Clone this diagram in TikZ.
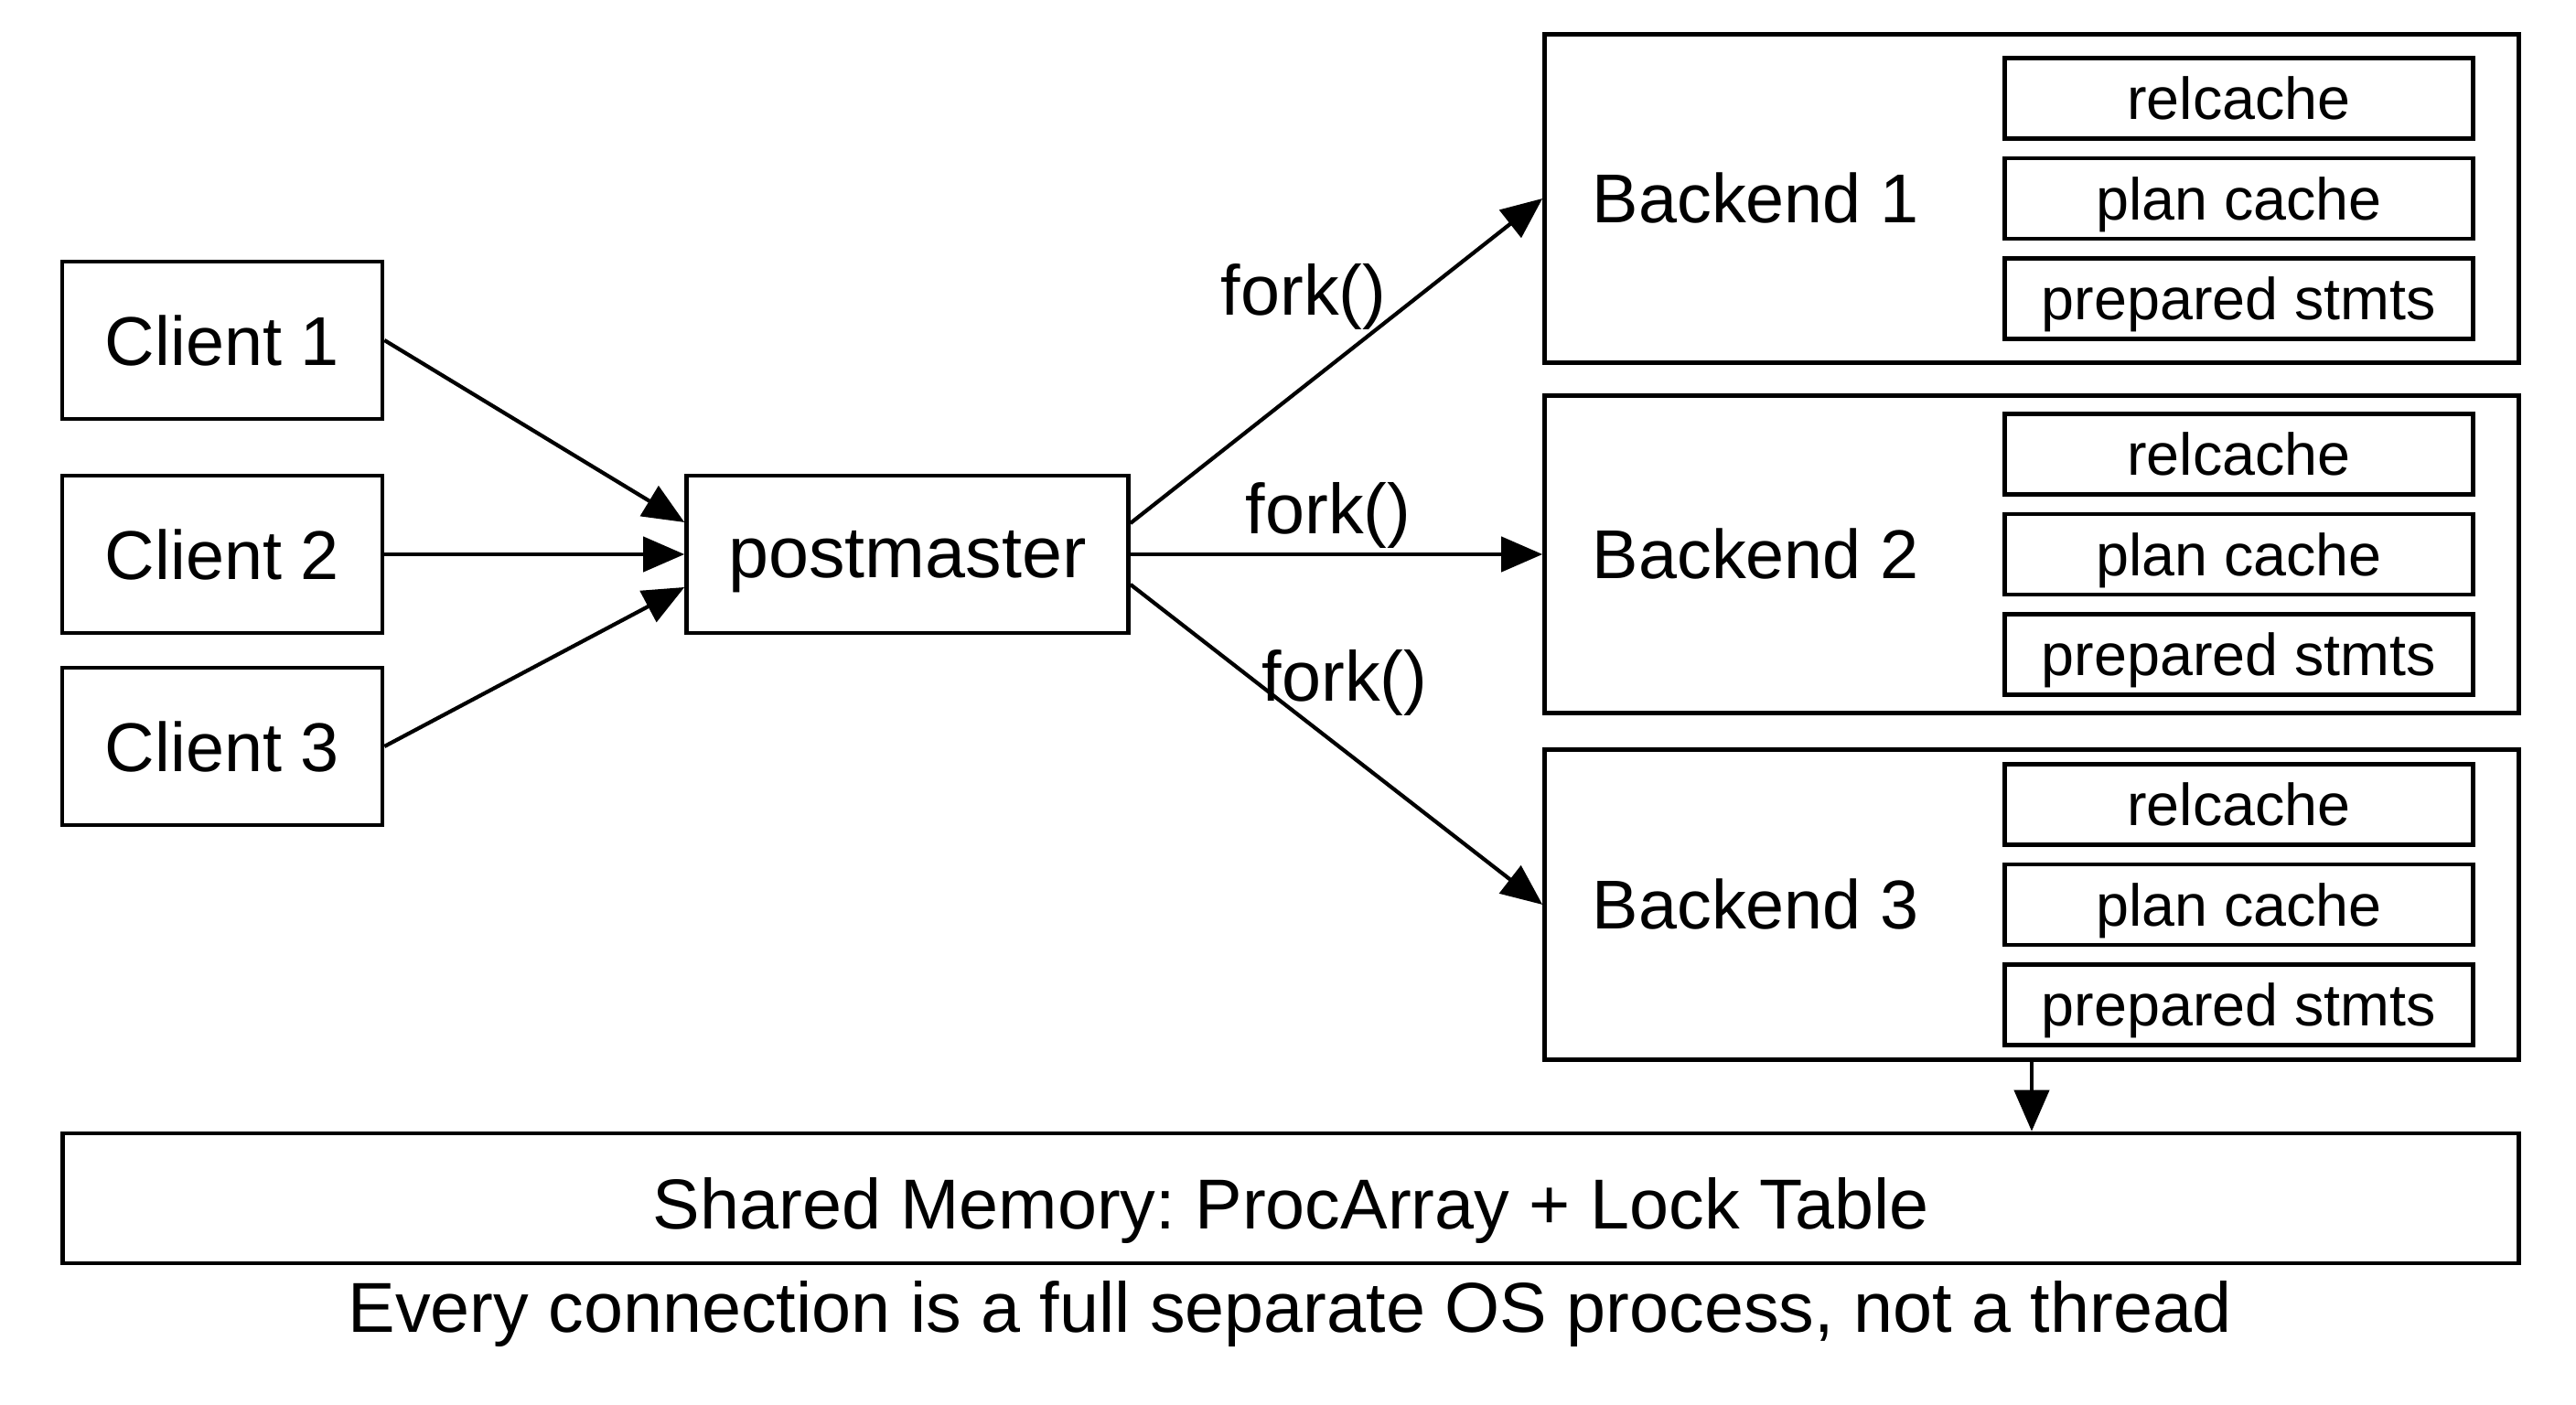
\documentclass[tikz,border=0pt]{standalone}
\usepackage{fontspec}
\setmainfont{Liberation Sans}
\usetikzlibrary{arrows.meta,positioning}
\frenchspacing

\begin{document}
\begin{tikzpicture}[>={Triangle[length=4.5mm,width=3.8mm]},
  box/.style={draw,line width=1.3pt,inner sep=0pt,text depth=0pt},
  client/.style={box,minimum width=3.5cm,minimum height=1.72cm,font=\fontsize{21.5}{26}\selectfont},
  backend/.style={box,minimum width=10.65cm},
  cache/.style={box,minimum width=5.12cm,minimum height=0.88cm,font=\fontsize{18.4}{22}\selectfont},
  lbl/.style={inner sep=0pt,font=\fontsize{22}{26}\selectfont},
  link/.style={->,line width=1.2pt}]
  \useasboundingbox (0,0) rectangle (28.16,15.36);

  % clients and postmaster
  \node[client] (c1) at (2.43,11.64) {Client 1};
  \node[client] (c2) at (2.43,9.30) {Client 2};
  \node[client] (c3) at (2.43,7.20) {Client 3};
  \node[client,minimum width=4.83cm,font=\fontsize{22.5}{27}\selectfont] (pm) at (9.92,9.30) {postmaster};
  \coordinate (pmin1) at ([yshift=3.5mm]pm.west);
  \coordinate (pmin3) at ([yshift=-3.6mm]pm.west);
  \coordinate (pmout1) at ([yshift=3.4mm]pm.east);
  \coordinate (pmout3) at ([yshift=-3.3mm]pm.east);

  % backends with their caches
  \foreach \i/\y/\h in {1/13.19/3.59, 2/9.30/3.47, 3/5.47/3.39} {
    \node[backend,minimum height=\h cm] (b\i) at (22.21,\y) {};
    \node[lbl,anchor=west,font=\fontsize{21.5}{26}\selectfont] (b\i name) at ([xshift=5.4mm]b\i.west) {Backend \i};
    \node[cache,left=5mm of b\i.east] (b\i plan) {plan cache};
    \node[cache,above=1.7mm of b\i plan] (b\i rel) {relcache};
    \node[cache,below=1.7mm of b\i plan] (b\i prep) {prepared stmts};
  }

  \node[box,minimum width=26.85cm,minimum height=1.42cm,text height=0.67cm,font=\fontsize{22}{26}\selectfont] (shm) at (14.11,2.26) {Shared Memory: ProcArray + Lock Table};
  \node[lbl] (note) at (14.10,0.99) {Every connection is a full separate OS process, not a thread};

  % connections
  \draw[link] (c1.east) -- (pmin1);
  \draw[link] (c2.east) -- (pm.west);
  \draw[link] (c3.east) -- (pmin3);
  \draw[link] (pmout1) -- (b1.west) node[lbl,pos=.42,above=6mm] (f1) {fork()};
  \draw[link] (pm.east) -- (b2.west) node[lbl,pos=.48,above=0.4mm] (f2) {fork()};
  \draw[link] (pmout3) -- (b3.west) node[lbl,pos=.52,above=3.6mm] (f3) {fork()};
  \draw[link] (b3.south) -- (b3.south |- shm.north);
\end{tikzpicture}
\end{document}
